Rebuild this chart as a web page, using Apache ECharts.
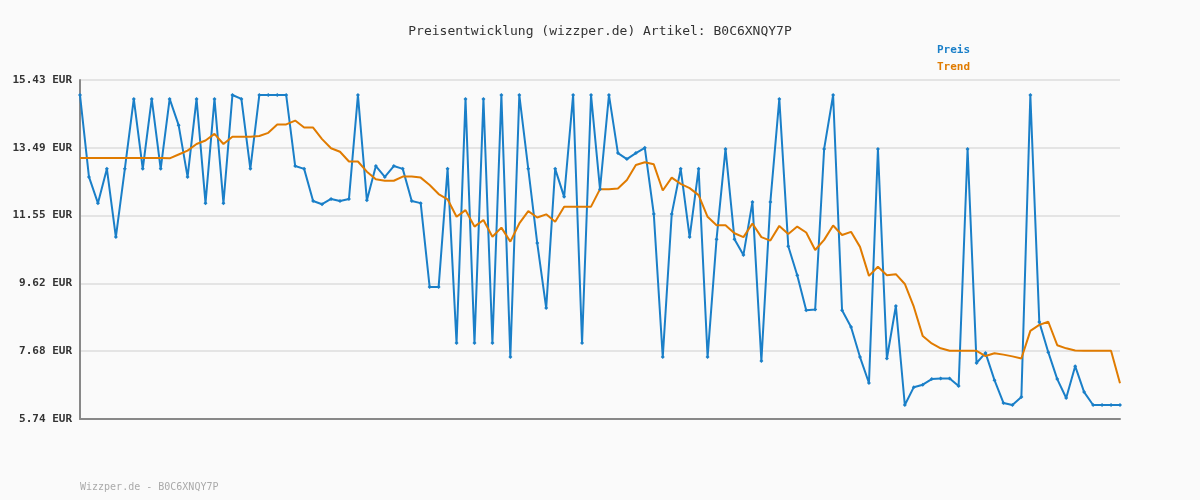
<!DOCTYPE html>
<html>
<head>
<meta charset="utf-8">
<script src="https://cdn.jsdelivr.net/npm/echarts@6/dist/echarts.min.js"></script>
<style>html,body{margin:0;padding:0;background:#fafafa;}#main{width:1200px;height:500px;}</style>
</head>
<body>
<div id="main"></div>
<script>
// Preis (blue), 117 points
const preis = [
  15.0, 12.66, 11.91, 12.89, 10.94, 12.89, 14.89, 12.89, 14.89, 12.89,
  14.89, 14.14, 12.66, 14.89, 11.91, 14.89, 11.91, 15.0, 14.89, 12.89,
  15.0, 15.0, 15.0, 15.0, 12.97, 12.89, 11.97, 11.88, 12.03, 11.97,
  12.03, 15.0, 11.99, 12.97, 12.66, 12.97, 12.89, 11.97, 11.91, 9.51,
  9.51, 12.89, 7.91, 14.89, 7.91, 14.89, 7.91, 15.0, 7.51, 15.0,
  12.89, 10.77, 8.91, 12.89, 12.09, 15.0, 7.91, 15.0, 12.31, 15.0,
  13.34, 13.17, 13.34, 13.49, 11.6, 7.51, 11.6, 12.89, 10.94, 12.89,
  7.51, 10.88, 13.46, 10.88, 10.43, 11.94, 7.40, 11.94, 14.89, 10.68,
  9.85, 8.85, 8.87, 13.46, 15.0, 8.85, 8.37, 7.51, 6.77, 13.46,
  7.47, 8.97, 6.14, 6.65, 6.72, 6.88, 6.9, 6.9, 6.68, 13.46,
  7.34, 7.63, 6.85, 6.2, 6.14, 6.37, 15.0, 8.51, 7.65, 6.88,
  6.34, 7.25, 6.51, 6.14, 6.14, 6.14, 6.14
];
// Trend (orange)
const trend = [
  13.2, 13.2, 13.2, 13.2, 13.2, 13.2, 13.2, 13.2, 13.2, 13.2,
  13.19, 13.3, 13.41, 13.6, 13.7, 13.89, 13.6, 13.81, 13.81, 13.81,
  13.83, 13.92, 14.16, 14.16, 14.27, 14.07, 14.07, 13.74, 13.48, 13.38,
  13.1, 13.1, 12.81, 12.59, 12.55, 12.55, 12.67, 12.67, 12.64, 12.43,
  12.17, 12.02, 11.52, 11.71, 11.24, 11.43, 10.95, 11.21, 10.81, 11.33,
  11.68, 11.5, 11.59, 11.38, 11.81, 11.81, 11.81, 11.81, 12.31, 12.31,
  12.33, 12.57, 13.0, 13.08, 13.02, 12.27, 12.64, 12.46, 12.34, 12.14,
  11.52, 11.28, 11.28, 11.05, 10.94, 11.33, 10.94, 10.84, 11.26, 11.03,
  11.24, 11.07, 10.57, 10.86, 11.27, 11.0, 11.09, 10.66, 9.83, 10.09,
  9.85, 9.88, 9.6, 8.95, 8.11, 7.9, 7.76, 7.69, 7.69, 7.69,
  7.69, 7.54, 7.62, 7.58, 7.53, 7.47, 8.26, 8.43, 8.52, 7.85,
  7.76, 7.7, 7.69, 7.69, 7.69, 7.69, 6.76
];
const yMin = 5.74;
const yMax = 15.43;
const yStep = 1.938;
const labels = preis.map((v, i) => String(i + 1));

const mono = 'DejaVu Sans Mono';
const chart = echarts.init(document.getElementById('main'));
chart.setOption({
  backgroundColor: '#fafafa',
  animation: false,
  title: {
    text: 'Preisentwicklung (wizzper.de) Artikel: B0C6XNQY7P',
    left: 'center', top: 20,
    textStyle: { fontFamily: mono, fontSize: 13, fontWeight: 'normal', color: '#333' }
  },
  legend: {
    right: 225, top: 40, orient: 'vertical', itemGap: 6,
    icon: 'none', itemWidth: 0, itemHeight: 0,
    textStyle: { fontFamily: mono, fontSize: 11, fontWeight: 'bold', color: 'inherit' },
    data: ['Preis', 'Trend']
  },
  graphic: [{
    type: 'text', left: 80, top: 482,
    style: { text: 'Wizzper.de - B0C6XNQY7P', fontFamily: mono, fontSize: 10, fill: '#aaa' }
  }],
  grid: { left: 80, right: 80, top: 80, bottom: 81 },
  xAxis: {
    type: 'category', data: labels, boundaryGap: false,
    axisLine: { lineStyle: { color: '#888', width: 2 } },
    axisTick: { show: false }, axisLabel: { show: false }
  },
  yAxis: {
    type: 'value', min: yMin, max: yMax, interval: yStep,
    axisLine: { show: true, lineStyle: { color: '#888', width: 2 } },
    axisTick: { show: false },
    axisLabel: {
      fontFamily: mono, fontSize: 11, fontWeight: 'bold', color: '#333',
      formatter: v => v.toFixed(2) + ' EUR'
    },
    splitLine: { lineStyle: { color: '#e4e4e4', width: 2 } }
  },
  series: [
    {
      name: 'Preis', type: 'line', data: preis,
      symbol: 'diamond', symbolSize: 4, showAllSymbol: true,
      itemStyle: { color: '#1a7fc8' }, lineStyle: { color: '#1a7fc8', width: 2 }
    },
    {
      name: 'Trend', type: 'line', data: trend, showSymbol: false,
      itemStyle: { color: '#e07b00' }, lineStyle: { color: '#e07b00', width: 2 }
    }
  ]
});
</script>
</body>
</html>
